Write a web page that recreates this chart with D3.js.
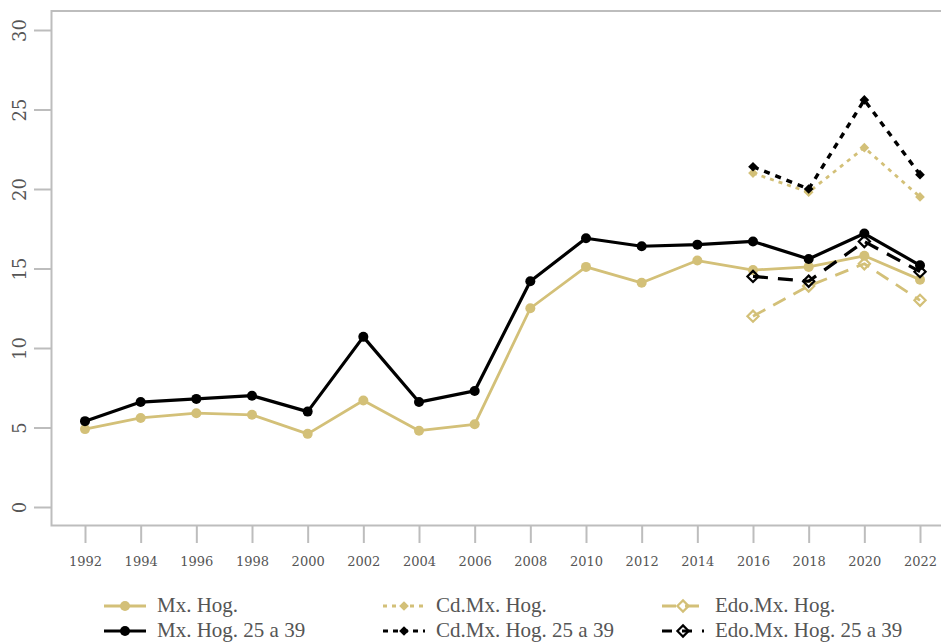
<!DOCTYPE html>
<html><head><meta charset="utf-8">
<script src="https://cdn.jsdelivr.net/npm/d3@7"></script>
<style>html,body{margin:0;padding:0;background:#fff;overflow:hidden}</style>
</head><body><svg id="c" width="941" height="643"></svg>
<script>
const years = [1992,1994,1996,1998,2000,2002,2004,2006,2008,2010,2012,2014,2016,2018,2020,2022];
const mxHog       = [4.9,5.6,5.9,5.8,4.6,6.7,4.8,5.2,12.5,15.1,14.1,15.5,14.9,15.1,15.8,14.3];
const mxHog2539   = [5.4,6.6,6.8,7.0,6.0,10.7,6.6,7.3,14.2,16.9,16.4,16.5,16.7,15.6,17.2,15.2];
const cdYears     = [2016,2018,2020,2022];
const cdmxHog     = [21.0,19.8,22.6,19.5];
const cdmxHog2539 = [21.4,20.0,25.6,20.9];
const edoHog      = [12.0,13.9,15.3,13.0];
const edoHog2539  = [14.5,14.2,16.7,14.8];
const yTicks = [0,5,10,15,20,25,30];
const legendLabels = ["Mx. Hog.","Mx. Hog. 25 a 39","Cd.Mx. Hog.","Cd.Mx. Hog. 25 a 39","Edo.Mx. Hog.","Edo.Mx. Hog. 25 a 39"];

const GOLD = "#d3c078", BLACK = "#000", AX = "#bdbdbd", TXT = "#555";
const svg = d3.select("#c");
const x = d3.scalePoint().domain(years).range([85, 920]);
const y = d3.scaleLinear().domain([0,30]).range([507, 30]);

// frame (left, top, bottom)
svg.append("path").attr("d","M946,11H51.5V525.5H946").attr("fill","none").attr("stroke",AX).attr("stroke-width",2);

// y axis
const yAx = svg.append("g").attr("transform","translate(34,0)")
  .call(d3.axisLeft(y).tickValues(yTicks).tickSize(0).tickPadding(0));
yAx.select(".domain").remove();
yAx.selectAll(".tick line").attr("x1",0).attr("x2",17).attr("stroke",AX).attr("stroke-width",2);
yAx.selectAll(".tick text").attr("transform","translate(-14,0) rotate(-90)").attr("text-anchor","middle")
  .attr("dy","0.35em").attr("x",0).attr("fill",TXT).style("font-family","DejaVu Serif").style("font-size","18px");

// x axis
const xAx = svg.append("g").attr("transform","translate(0,526)")
  .call(d3.axisBottom(x).tickSize(17).tickPadding(14));
xAx.select(".domain").remove();
xAx.selectAll(".tick line").attr("stroke",AX).attr("stroke-width",2);
xAx.selectAll(".tick text").attr("fill",TXT).style("font-family","DejaVu Serif").style("font-size","13px");

const diamond = d3.symbol().type(d3.symbolDiamond2);
function series(xs, vals, color, width, dash, marker){
  const pts = xs.map((d,i)=>[x(d), y(vals[i])]);
  svg.append("path").attr("d", d3.line()(pts)).attr("fill","none").attr("stroke",color)
    .attr("stroke-width",width).attr("stroke-dasharray",dash).attr("stroke-linejoin","round");
  pts.forEach(p=>drawMarker(p[0],p[1],color,marker));
}
function drawMarker(px,py,color,marker){
  if(marker==="circle") svg.append("circle").attr("cx",px).attr("cy",py).attr("r",5).attr("fill",color);
  else if(marker==="fdiamond") svg.append("path").attr("d",diamond.size(60)()).attr("transform",`translate(${px},${py})`).attr("fill",color);
  else svg.append("path").attr("d",diamond.size(80)()).attr("transform",`translate(${px},${py})`).attr("fill","#fff").attr("fill-opacity",0).attr("stroke",color).attr("stroke-width",2.2);
}
series(years, mxHog, GOLD, 2.8, null, "circle");
series(years, mxHog2539, BLACK, 3.2, null, "circle");
series(cdYears, cdmxHog, GOLD, 2.8, "4,5", "fdiamond");
series(cdYears, cdmxHog2539, BLACK, 3.4, "6,6", "fdiamond");
series(cdYears, edoHog, GOLD, 2.8, "14,9", "hdiamond");
series(cdYears, edoHog2539, BLACK, 3.2, "15,10", "hdiamond");

// legend
const legSpec = [
  {col:0,row:0,color:GOLD,dash:null,marker:"circle",w:2.8},
  {col:0,row:1,color:BLACK,dash:null,marker:"circle",w:3.2},
  {col:1,row:0,color:GOLD,dash:"4,5",marker:"fdiamond",w:2.8},
  {col:1,row:1,color:BLACK,dash:"5,5",marker:"fdiamond",w:3.2},
  {col:2,row:0,color:GOLD,dash:"14,9",marker:"hdiamond",w:2.8},
  {col:2,row:1,color:BLACK,dash:"10,10",marker:"hdiamond",w:3.2}
];
const colX = [104, 383, 662], rowY = [606, 631];
legSpec.forEach((s,i)=>{
  const x0 = colX[s.col], yy = rowY[s.row];
  svg.append("line").attr("x1",x0).attr("x2",x0+42).attr("y1",yy).attr("y2",yy)
    .attr("stroke",s.color).attr("stroke-width",s.w).attr("stroke-dasharray",s.dash);
  drawMarker(x0+21,yy,s.color,s.marker);
  svg.append("text").attr("x",x0+53).attr("y",yy).attr("dy","0.28em").text(legendLabels[i])
    .attr("fill",TXT).style("font-family","Liberation Serif").style("font-size","21px");
});
</script></body></html>
